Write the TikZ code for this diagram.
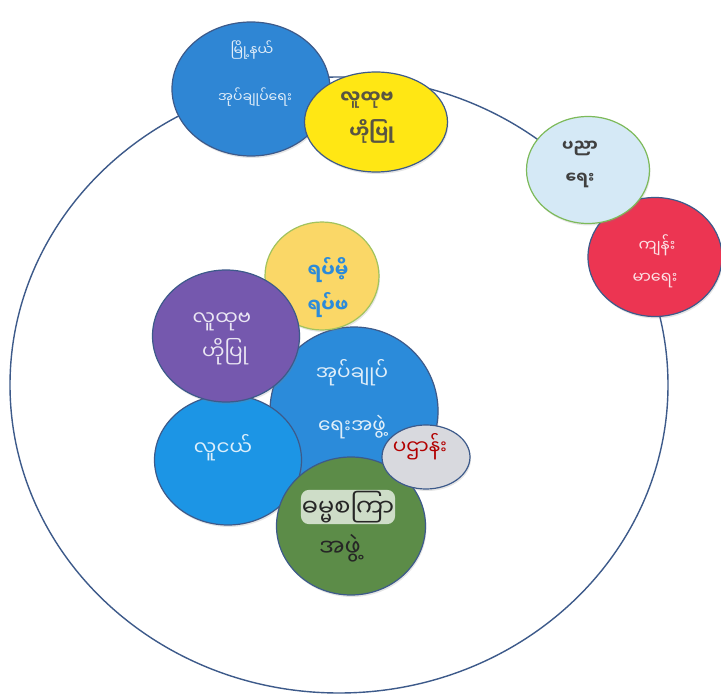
\documentclass[tikz,border=0pt]{standalone}
\usepackage{fontspec}
\newfontfamily\my[Script=Myanmar]{Noto Sans Myanmar UI}
\usetikzlibrary{shapes.geometric,shadows}
\definecolor{edge}{HTML}{3D5A8A}
\definecolor{bblue}{HTML}{2F86D4}
\definecolor{yel}{HTML}{FFE714}
\definecolor{ltblue}{HTML}{D5E9F6}
\definecolor{ltgreen}{HTML}{7DBA5A}
\definecolor{redA}{HTML}{EC3552}
\definecolor{gold}{HTML}{FAD767}
\definecolor{purp}{HTML}{7558AE}
\definecolor{blueB}{HTML}{2B8BDA}
\definecolor{blueC}{HTML}{1C95E5}
\definecolor{greyA}{HTML}{D8D9DE}
\definecolor{greenA}{HTML}{5C8C48}
\tikzset{
  blob/.style={ellipse, draw=edge, line width=1.2pt, inner sep=0pt,
    drop shadow={opacity=0.2, shadow xshift=1pt, shadow yshift=-2pt}},
  lbl/.style={inner sep=0pt, font=\my\fontsize{#1}{#1}\selectfont},
  lbl/.default=14,
  blbl/.style={inner sep=0pt, font=\my\bfseries\fontsize{#1}{#1}\selectfont},
}
\begin{document}
\begin{tikzpicture}[x=1pt,y=-1pt]
\useasboundingbox[fill=white] (0,0) rectangle (721,695);
% outer ring
\node[ellipse, draw=edge, line width=1.4pt, minimum width=658pt, minimum height=616pt, inner sep=0pt] (ring) at (339,385) {};
% top cluster
\node[blob, fill=bblue, minimum width=158pt, minimum height=134pt] (town) at (251,89) {};
\node[blob, fill=yel, minimum width=143pt, minimum height=100pt] (ytop) at (376,122) {};
% right cluster
\node[blob, fill=redA, minimum width=134pt, minimum height=119pt] (health) at (655,257) {};
\node[blob, fill=ltblue, draw=ltgreen, minimum width=123pt, minimum height=107pt] (edu) at (588,170) {};
% inner cluster
\node[blob, fill=blueB, minimum width=168pt, minimum height=168pt] (admin) at (354,411) {};
\node[blob, fill=gold, draw=ltgreen!70!gold, minimum width=114pt, minimum height=108pt] (elders) at (322,276) {};
\node[blob, fill=blueC, minimum width=147pt, minimum height=130pt] (youth) at (228,460) {};
\node[blob, fill=purp, minimum width=147pt, minimum height=132pt] (pcom) at (226,336) {};
\node[blob, fill=greenA, minimum width=149pt, minimum height=138pt] (dham) at (351,526) {};
\node[blob, fill=greyA, minimum width=88pt, minimum height=64pt] (pat) at (426,457) {};
% labels
\node[lbl=14, text=white!85!bblue] (t1a) at (252,50) {မြို့နယ်};
\node[lbl=14, text=white!85!bblue] (t1b) at (255,97) {အုပ်ချုပ်ရေး};
\node[blbl=18, text=black!75!yellow] (t2a) at (367,100) {လူထုဗ};
\node[blbl=18, text=black!75!yellow] (t2b) at (372,131) {ဟိုပြု};
\node[blbl=16, text=black!75] (t3a) at (580,148) {ပညာ};
\node[blbl=16, text=black!75] (t3b) at (580,180) {ရေး};
\node[lbl=16, text=white!85!redA] (t4a) at (657,245) {ကျန်း};
\node[lbl=16, text=white!85!redA] (t4b) at (655,281) {မာရေး};
\node[blbl=19, text=blueB] (t5a) at (328,270) {ရပ်မိ့};
\node[blbl=19, text=blueB] (t5b) at (328,305) {ရပ်ဖ};
\node[lbl=20, text=white!85!purp] (t6a) at (222,322) {လူထုဗ};
\node[lbl=20, text=white!85!purp] (t6b) at (225,352) {ဟိုပြု};
\node[lbl=20, text=white!85!blueB] (t7a) at (352,373) {အုပ်ချုပ်};
\node[lbl=20, text=white!85!blueB] (t7b) at (352,427) {ရေးအဖွဲ့};
\node[lbl=20, text=white!85!blueC] (t8) at (223,448) {လူငယ်};
\node[lbl=20, text=red!70!black] (t9) at (420,447) {ပဌာန်း};
\node[lbl=24, text=black!85, fill=white!70!greenA, rounded corners=8pt, inner sep=1pt] (t10a) at (348,507) {ဓမ္မစကြာ};
\node[lbl=24, text=black!85] (t10b) at (340,548) {အဖွဲ့};
\end{tikzpicture}
\end{document}
